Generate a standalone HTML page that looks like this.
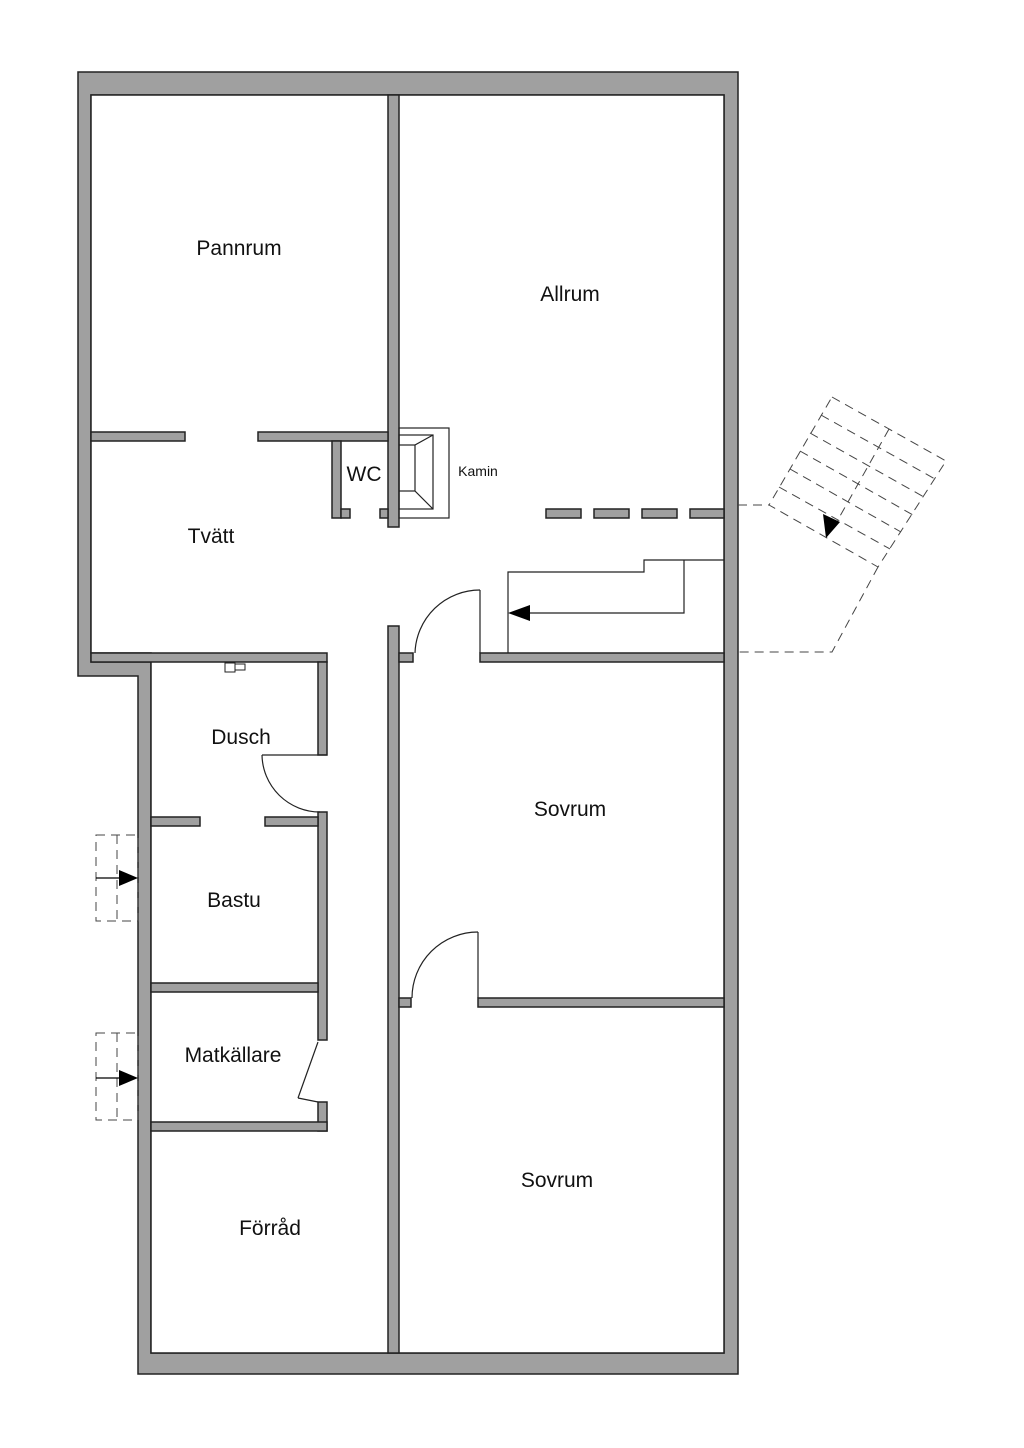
<!DOCTYPE html>
<html><head><meta charset="utf-8"><style>html,body{margin:0;padding:0;background:#fff}svg{display:block}text{font-family:"Liberation Sans",sans-serif;fill:#111}</style></head><body>
<svg width="1024" height="1448" viewBox="0 0 1024 1448" xmlns="http://www.w3.org/2000/svg">
<g stroke="#222" stroke-width="1.5">
<polygon points="78,72 738,72 738,1374 138,1374 138,676 78,676" fill="#a0a0a0"/>
<polygon points="91,95 724,95 724,1353 151,1353 151,662 91,662 91,653 91,653" fill="#fff"/>
<polygon points="91,95 724,95 724,1353 151,1353 151,653 91,653" fill="#fff"/>
<g fill="#a0a0a0">
<rect x="91" y="653" width="236" height="9"/>
<rect x="388" y="95" width="11" height="432"/>
<rect x="380" y="509" width="8" height="9"/>
<rect x="91" y="432" width="94" height="9"/>
<rect x="258" y="432" width="130" height="9"/>
<rect x="332" y="441" width="9" height="77"/>
<rect x="341" y="509" width="9" height="9"/>
<rect x="546" y="509" width="35" height="9"/>
<rect x="594" y="509" width="35" height="9"/>
<rect x="642" y="509" width="35" height="9"/>
<rect x="690" y="509" width="34" height="9"/>
<rect x="388" y="626" width="11" height="727"/>
<rect x="399" y="653" width="14" height="9"/>
<rect x="480" y="653" width="244" height="9"/>
<rect x="399" y="998" width="12" height="9"/>
<rect x="478" y="998" width="246" height="9"/>
<rect x="318" y="662" width="9" height="93"/>
<rect x="318" y="812" width="9" height="228"/>
<rect x="318" y="1102" width="9" height="29"/>
<rect x="151" y="1122" width="176" height="9"/>
<rect x="151" y="983" width="167" height="9"/>
<rect x="151" y="817" width="49" height="9"/>
<rect x="265" y="817" width="53" height="9"/>
</g>
<g fill="none" stroke-width="1.2">
<rect x="399" y="428" width="50" height="90"/>
<rect x="399" y="435" width="34" height="74"/>
<polyline points="433,435 415,445 415,491 433,509"/>
<line x1="399" y1="445" x2="415" y2="445"/><line x1="399" y1="491" x2="415" y2="491"/>
<polyline points="508,653 508,572 644,572 644,560 724,560"/>
<polyline points="684,560 684,613 525,613"/>
<line x1="480" y1="590" x2="480" y2="653"/>
<path d="M480,590 A65,65 0 0 0 415,653"/>
<line x1="478" y1="932" x2="478" y2="998"/>
<path d="M478,932 A66,66 0 0 0 412,998"/>
<line x1="262" y1="755" x2="327" y2="755"/>
<path d="M262,755 A58,58 0 0 0 320,812"/>
<line x1="318" y1="1042" x2="298" y2="1098"/>
<path d="M298,1098 Q308,1100 318,1102"/>
</g>
<polygon points="508,613 530,605 530,621" fill="#000" stroke="none"/>
<g fill="none" stroke="#444" stroke-width="1" stroke-dasharray="9,6">
<rect x="96" y="835" width="42" height="86"/><line x1="117" y1="835" x2="117" y2="921"/>
<rect x="96" y="1033" width="42" height="87"/><line x1="117" y1="1033" x2="117" y2="1120"/>
<polygon points="832,397 946,461 878,567 769,505"/>
<polyline points="738,505 769,505"/>
<polyline points="878,567 832,652 738,652"/>
<line x1="821" y1="415" x2="935" y2="479"/>
<line x1="810" y1="433" x2="924" y2="497"/>
<line x1="800" y1="451" x2="913" y2="515"/>
<line x1="790" y1="469" x2="901" y2="532"/>
<line x1="779" y1="487" x2="890" y2="549"/>
<line x1="889" y1="429" x2="835" y2="525"/>
</g>
<g stroke="#000" stroke-width="1.2">
<line x1="96" y1="878" x2="120" y2="878"/><line x1="96" y1="1078" x2="120" y2="1078"/>
</g>
<polygon points="138,878 119,870 119,886" fill="#000" stroke="none"/>
<polygon points="138,1078 119,1070 119,1086" fill="#000" stroke="none"/>
<polygon points="826,538 823,514 840,522" fill="#000" stroke="none"/>
<g fill="none" stroke-width="1"><rect x="225" y="663" width="10" height="9"/><rect x="235" y="664" width="10" height="6"/></g>
</g>
<g font-size="21" text-anchor="middle">
<text x="239" y="255">Pannrum</text>
<text x="570" y="301">Allrum</text>
<text x="211" y="543">Tvätt</text>
<text x="364" y="481">WC</text>
<text x="241" y="744">Dusch</text>
<text x="234" y="907">Bastu</text>
<text x="233" y="1062">Matkällare</text>
<text x="270" y="1235">Förråd</text>
<text x="570" y="816">Sovrum</text>
<text x="557" y="1187">Sovrum</text>
<text x="478" y="476" font-size="14">Kamin</text>
</g>
</svg>
</body></html>
